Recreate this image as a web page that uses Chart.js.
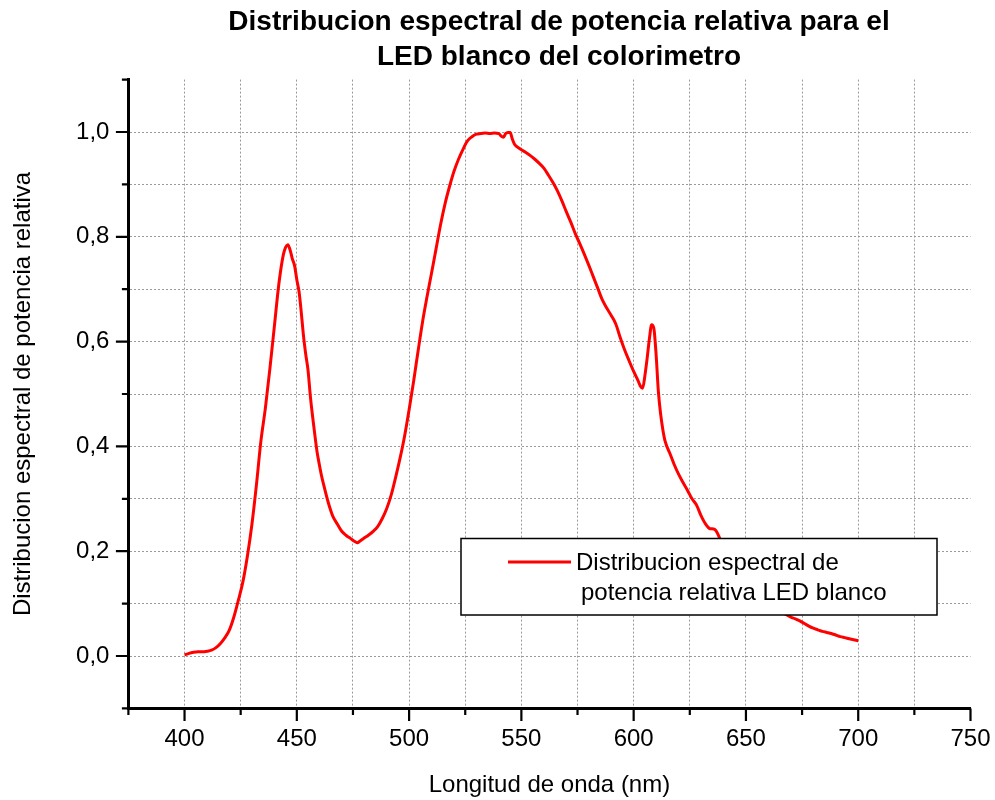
<!DOCTYPE html>
<html>
<head>
<meta charset="utf-8">
<title>Distribucion espectral de potencia relativa</title>
<script src="https://cdn.jsdelivr.net/npm/chart.js@4/dist/chart.umd.min.js"></script>
<style>
  html, body { margin: 0; padding: 0; background: #ffffff; }
  #chart { display: block; width: 995px; height: 800px; }
</style>
</head>
<body>
<canvas id="chart" width="995" height="800"></canvas>
<script>
// Wavelength (nm) and relative spectral power of the white LED
const wavelengthNm = [
  400, 402, 404, 406, 408, 410, 412, 414, 416, 418,
  420, 422, 424, 426, 428, 430, 432, 434, 436, 438,
  440, 442, 444, 445, 446, 447, 448, 449, 450, 451,
  452, 453, 454, 455, 456, 457, 458, 459, 460, 461,
  462, 463, 464, 465, 466, 468, 470, 472, 474, 476,
  477, 478, 480, 482, 484, 486, 488, 490, 492, 494,
  496, 498, 500, 502, 504, 506, 508, 510, 512, 514,
  516, 518, 520, 522, 524, 526, 528, 530, 532, 534,
  536, 538, 540, 541, 542, 543, 544, 545, 546, 547,
  548, 550, 552, 554, 556, 558, 560, 562, 564, 566,
  568, 570, 572, 574, 576, 578, 580, 582, 584, 586,
  588, 590, 592, 594, 596, 598, 600, 602, 603, 604,
  605, 606, 607, 608, 609, 610, 611, 612, 613, 614,
  616, 618, 620, 622, 624, 626, 628, 630, 632, 634,
  636, 638, 640, 644, 648, 652, 656, 660, 664, 668,
  670, 672, 674, 676, 678, 680, 682, 684, 686, 688,
  690, 692, 694, 696, 698, 700
];

const relativePower = [
  0.002, 0.005, 0.007, 0.008, 0.008, 0.009, 0.011, 0.016, 0.024, 0.035,
  0.050, 0.075, 0.107, 0.142, 0.191, 0.251, 0.326, 0.410, 0.473, 0.548,
  0.629, 0.710, 0.766, 0.780, 0.785, 0.775, 0.758, 0.745, 0.718, 0.695,
  0.655, 0.610, 0.575, 0.545, 0.497, 0.458, 0.423, 0.390, 0.366, 0.344,
  0.326, 0.309, 0.293, 0.279, 0.267, 0.252, 0.238, 0.230, 0.224, 0.218,
  0.216, 0.219, 0.225, 0.231, 0.238, 0.247, 0.262, 0.281, 0.307, 0.341,
  0.378, 0.420, 0.470, 0.524, 0.582, 0.638, 0.686, 0.731, 0.777, 0.823,
  0.863, 0.896, 0.925, 0.948, 0.967, 0.983, 0.991, 0.996, 0.997, 0.998,
  0.997, 0.998, 0.997, 0.992, 0.990, 0.997, 0.999, 0.999, 0.986, 0.976,
  0.972, 0.966, 0.961, 0.955, 0.948, 0.940, 0.931, 0.918, 0.904, 0.888,
  0.869, 0.848, 0.828, 0.806, 0.787, 0.767, 0.746, 0.724, 0.702, 0.680,
  0.664, 0.650, 0.634, 0.608, 0.584, 0.563, 0.543, 0.525, 0.515, 0.511,
  0.535, 0.568, 0.605, 0.632, 0.625, 0.575, 0.505, 0.462, 0.432, 0.410,
  0.388, 0.366, 0.347, 0.331, 0.316, 0.300, 0.288, 0.268, 0.252, 0.243,
  0.242, 0.228, 0.205, 0.180, 0.155, 0.132, 0.114, 0.100, 0.089, 0.079,
  0.074, 0.071, 0.067, 0.062, 0.057, 0.053, 0.050, 0.047, 0.045, 0.043,
  0.040, 0.037, 0.035, 0.033, 0.031, 0.029
];

// Axis ticks (every tick gets a grid line; labelled ones are the major ticks)
const xTickValues = [375, 400, 425, 450, 475, 500, 525, 550, 575, 600, 625, 650, 675, 700, 725, 750];
const xTickLabels = ['', '400', '', '450', '', '500', '', '550', '', '600', '', '650', '', '700', '', '750'];
const yTickValues = [-0.1, 0.0, 0.1, 0.2, 0.3, 0.4, 0.5, 0.6, 0.7, 0.8, 0.9, 1.0, 1.1];
const yTickLabels = ['', '0,0', '', '0,2', '', '0,4', '', '0,6', '', '0,8', '', '1,0', ''];

const titleLines = ['Distribucion espectral de potencia relativa para el', 'LED blanco del colorimetro'];
const legendLines = ['Distribucion espectral de', 'potencia relativa LED blanco'];
const xAxisTitle = 'Longitud de onda (nm)';
const yAxisTitle = 'Distribucion espectral de potencia relativa';

const FONT = "'Liberation Sans', Arial, Helvetica, sans-serif";
const GRID_COLOR = '#9a9a9a';

// Outward tick marks: long for labelled ticks, short for the others
const tickMarks = {
  id: 'tickMarks',
  afterDraw(chart, args, opts) {
    const { ctx, chartArea } = chart;
    const xs = chart.scales.x;
    const ys = chart.scales.y;
    ctx.save();
    ctx.strokeStyle = opts.color;
    ctx.lineWidth = opts.width;
    ctx.beginPath();
    xs.ticks.forEach(t => {
      const px = xs.getPixelForValue(t.value);
      const len = t.label ? opts.major : opts.minor;
      ctx.moveTo(px, chartArea.bottom);
      ctx.lineTo(px, chartArea.bottom + len);
    });
    ys.ticks.forEach(t => {
      const py = ys.getPixelForValue(t.value);
      const len = t.label ? opts.major : opts.minor;
      ctx.moveTo(chartArea.left, py);
      ctx.lineTo(chartArea.left - len, py);
    });
    ctx.stroke();
    ctx.restore();
  }
};

// Two-line heading
const heading = {
  id: 'heading',
  afterDraw(chart, args, opts) {
    const ctx = chart.ctx;
    ctx.save();
    ctx.fillStyle = '#000';
    ctx.font = `bold ${opts.size}px ${FONT}`;
    ctx.textAlign = 'center';
    ctx.textBaseline = 'middle';
    opts.lines.forEach((line, i) => ctx.fillText(line, opts.x, opts.y + i * opts.lineGap));
    ctx.restore();
  }
};

// Framed legend placed inside the plot
const boxLegend = {
  id: 'boxLegend',
  afterDraw(chart, args, opts) {
    const ctx = chart.ctx;
    const ds = chart.data.datasets[0];
    ctx.save();
    ctx.fillStyle = '#fff';
    ctx.fillRect(opts.left, opts.top, opts.width, opts.height);
    ctx.lineWidth = 1.5;
    ctx.strokeStyle = '#000';
    ctx.strokeRect(opts.left, opts.top, opts.width, opts.height);
    ctx.strokeStyle = ds.borderColor;
    ctx.lineWidth = ds.borderWidth;
    ctx.beginPath();
    ctx.moveTo(opts.sampleFrom, opts.sampleY);
    ctx.lineTo(opts.sampleTo, opts.sampleY);
    ctx.stroke();
    ctx.fillStyle = '#000';
    ctx.font = `${opts.size}px ${FONT}`;
    ctx.textAlign = 'left';
    ctx.textBaseline = 'alphabetic';
    opts.lines.forEach((line, i) =>
      ctx.fillText(line, opts.textX + (i ? opts.indent : 0), opts.baseline + i * opts.lineGap));
    ctx.restore();
  }
};

const points = wavelengthNm.map((x, i) => ({ x, y: relativePower[i] }));

new Chart(document.getElementById('chart'), {
  type: 'line',
  data: {
    datasets: [{
      label: legendLines.join(' '),
      data: points,
      borderColor: '#ff0000',
      borderWidth: 3,
      pointRadius: 0,
      fill: false,
      cubicInterpolationMode: 'monotone'
    }]
  },
  options: {
    responsive: false,
    animation: false,
    devicePixelRatio: 1,
    layout: { padding: { top: 79.6, right: 24.5, bottom: 0, left: 0 } },
    plugins: {
      legend: { display: false },
      title: { display: false },
      tooltip: { enabled: false },
      tickMarks: { color: '#000', width: 2.2, major: 12.5, minor: 6.5 },
      heading: { lines: titleLines, size: 28, x: 559, y: 22, lineGap: 35 },
      boxLegend: {
        lines: legendLines, size: 24,
        left: 461, top: 538.5, width: 476, height: 76.5,
        sampleFrom: 508, sampleTo: 571, sampleY: 562,
        textX: 576, indent: 5, baseline: 570, lineGap: 30
      }
    },
    scales: {
      x: {
        type: 'linear',
        min: 375,
        max: 750,
        afterBuildTicks: s => { s.ticks = xTickValues.map(value => ({ value })); },
        afterFit: s => { s.height = 91.6; s.paddingLeft = 0; s.paddingRight = 0; },
        ticks: {
          autoSkip: false,
          maxRotation: 0,
          padding: 17,
          color: '#000',
          font: { family: FONT, size: 24 },
          callback: v => xTickLabels[xTickValues.indexOf(v)] ?? ''
        },
        grid: {
          drawTicks: false,
          lineWidth: 1,
          color: c => (c.tick && c.tick.value === 750) ? 'rgba(0,0,0,0)' : GRID_COLOR
        },
        border: { display: true, color: '#000', width: 3, dash: [2, 2] },
        title: {
          display: true,
          text: xAxisTitle,
          color: '#000',
          font: { family: FONT, size: 24 },
          padding: { top: 0, bottom: 0 }
        }
      },
      y: {
        type: 'linear',
        min: -0.1,
        max: 1.1,
        afterBuildTicks: s => { s.ticks = yTickValues.map(value => ({ value })); },
        afterFit: s => { s.width = 128.4; s.paddingTop = 0; s.paddingBottom = 0; },
        ticks: {
          autoSkip: false,
          padding: 19,
          color: '#000',
          font: { family: FONT, size: 24 },
          callback: v => {
            const k = yTickValues.findIndex(t => Math.abs(t - v) < 1e-6);
            return k >= 0 ? yTickLabels[k] : '';
          }
        },
        grid: {
          drawTicks: false,
          lineWidth: 1,
          color: c => (c.tick && Math.abs(c.tick.value - 1.1) < 1e-6) ? 'rgba(0,0,0,0)' : GRID_COLOR
        },
        border: { display: true, color: '#000', width: 3, dash: [2, 2] },
        title: {
          display: true,
          text: yAxisTitle,
          color: '#000',
          font: { family: FONT, size: 24 },
          padding: { top: 8.6, bottom: 0 }
        }
      }
    }
  },
  plugins: [tickMarks, heading, boxLegend]
});
</script>
</body>
</html>
